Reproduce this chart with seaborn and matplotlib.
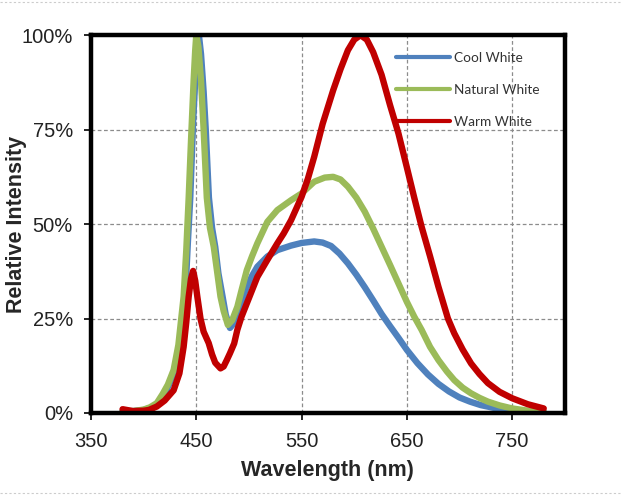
import numpy as np
import pandas as pd
import matplotlib
matplotlib.use("Agg")
import matplotlib.pyplot as plt
import seaborn as sns
from matplotlib.lines import Line2D

# ---- data ----
cool_wl = [380, 390, 400, 408, 414, 420, 425, 430, 435, 439.5, 442, 444.3, 447, 449, 451, 452.5,
           454.5, 457, 459, 462, 465, 468, 471, 475, 478, 482, 485, 489, 493, 498, 503, 508,
           517.5, 527, 540, 550, 562, 570, 578, 586, 594, 602, 610, 618, 626, 634, 642, 650,
           660, 670, 680, 690, 700, 710, 720, 735, 750, 765, 780]
cool_val = [0.5, 0.5, 0.8, 1.5, 2.6, 5, 8, 11.5, 19, 30.8, 45, 57, 77, 88, 97, 100,
            95, 85, 75, 57, 49, 44, 37, 30.8, 26, 22.5, 23.5, 25.5, 29.5, 33.4, 36.3, 38.7,
            41.4, 43.1, 44.3, 45, 45.4, 45.1, 44.2, 42.2, 39.6, 36.6, 33.3, 29.8, 26.2, 23, 19.9, 16.7,
            13.2, 10.2, 7.7, 5.7, 4.1, 3, 2.1, 1.2, 0.7, 0.4, 0.3]

natural_wl = [380, 390, 400, 406, 412.5, 418, 423, 428.5, 433, 438, 440.5, 442.8, 445, 447.5, 449, 450,
              452, 454.5, 457, 460, 463, 466.6, 470, 473, 476, 480, 484, 489, 493, 498, 503, 508,
              517.5, 527, 540, 550, 562, 572, 580, 587, 594, 602, 610, 618, 626, 634, 642, 650,
              657, 664, 672, 680, 688, 695, 703, 711, 719, 727, 738, 750, 765, 780]
natural_val = [0.5, 0.5, 0.9, 1.5, 2.6, 5, 7.5, 11.4, 18, 30.8, 43, 57, 72, 88, 96, 100,
               97, 88, 75, 57, 49, 44, 37, 30.8, 27, 23.3, 24.5, 28.1, 32.5, 37.8, 41.5, 44.9,
               50.6, 53.7, 56.3, 58.1, 61.2, 62.3, 62.5, 61.8, 59.9, 57, 53.3, 48.8, 44, 39.2, 34.3, 29.4,
               25.5, 22, 17.5, 14, 11, 8.7, 6.7, 5.2, 4, 3, 2, 1.2, 0.6, 0.3]

warm_wl = [380, 390, 400, 405, 412.5, 420, 428.5, 434, 438, 440.5, 442.8, 445, 447, 449, 451, 454,
           457, 461.8, 465, 468, 473, 476, 479, 482, 486, 489, 493, 498, 503, 508, 517.5, 527,
           533, 540, 550, 556, 562, 570, 580, 587, 594, 600, 606, 612, 618, 626, 634, 642,
           650, 657, 664, 672, 680, 689, 695, 703, 711, 719, 727, 738, 750, 765, 780]
warm_val = [1.0, 0.5, 0.6, 0.8, 1.7, 3.3, 6, 10.5, 17.5, 24, 30.8, 35.5, 37.6, 35, 30.8, 25,
            21.5, 18.5, 15.5, 13.3, 11.8, 12.3, 14, 15.8, 18.4, 22, 25.5, 29, 32.5, 36, 40.5, 44.9,
            47.5, 51, 57.2, 62, 67.8, 76.5, 85.4, 91, 96, 98.8, 100, 98.8, 95.5, 89.5, 81.5, 74,
            65, 57, 49.3, 41.5, 33.4, 25, 21.1, 16.8, 13.1, 10.3, 7.9, 5.6, 3.9, 2.3, 1.2]

series_names = ["Cool White", "Natural White", "Warm White"]
colors = ["#4F81BD", "#9BBB59", "#C00000"]
x_ticks = [350, 450, 550, 650, 750]
y_ticks = [0, 25, 50, 75, 100]
y_tick_labels = ["0%", "25%", "50%", "75%", "100%"]

df = pd.concat([
    pd.DataFrame({"Wavelength": cool_wl, "Intensity": cool_val, "Series": series_names[0]}),
    pd.DataFrame({"Wavelength": natural_wl, "Intensity": natural_val, "Series": series_names[1]}),
    pd.DataFrame({"Wavelength": warm_wl, "Intensity": warm_val, "Series": series_names[2]}),
], ignore_index=True)

sns.set_style("white")
plt.rcParams["font.family"] = ["Liberation Sans", "DejaVu Sans"]

fig = plt.figure(figsize=(6.21, 4.95), dpi=100)
ax = fig.add_axes([0.1465, 0.1657, 0.763, 0.7633])

sns.lineplot(data=df, x="Wavelength", y="Intensity", hue="Series",
             palette=dict(zip(series_names, colors)), estimator=None, sort=True,
             linewidth=4.6, ax=ax, legend=False, zorder=3)
for ln in ax.get_lines():
    ln.set_solid_joinstyle("round")
    ln.set_solid_capstyle("round")

ax.set_xlim(350, 800)
ax.set_ylim(0, 100)
ax.set_xticks(x_ticks)
ax.set_yticks(y_ticks)
ax.set_yticklabels(y_tick_labels)
ax.tick_params(axis="both", direction="out", length=5, width=1.2, color="black",
               labelsize=14.5, labelcolor="#222222", left=True, bottom=True)
ax.tick_params(axis="y", pad=8)
ax.tick_params(axis="x", pad=9)

ax.grid(True, linestyle=(0, (3, 2)), color="#8c8c8c", linewidth=0.9)
ax.set_axisbelow(True)
for s in ax.spines.values():
    s.set_visible(True)
    s.set_color("black")
    s.set_linewidth(3.2)
    s.set_zorder(5)

ax.set_xlabel("Wavelength (nm)", fontsize=15.5, fontweight="bold", labelpad=6)
ax.set_ylabel("Relative Intensity", fontsize=15.5, fontweight="bold")
ax.yaxis.set_label_coords(-0.134, 0.5)

handles = [Line2D([0], [0], color=c, lw=3.0) for c in colors]
leg = ax.legend(handles, series_names, loc="upper left", bbox_to_anchor=(0.643, 0.955),
                frameon=False, handlelength=4.0, handletextpad=0.3,
                labelspacing=1.45, borderpad=0, borderaxespad=0,
                prop={"family": ["Lato", "DejaVu Sans"], "size": 9.8})
for t in leg.get_texts():
    t.set_color("#333333")

# faint dotted frame lines of the original image
fig.add_artist(Line2D([0, 1], [0.995, 0.995], transform=fig.transFigure,
                      color="#cccccc", lw=0.8, linestyle=(0, (2, 2))))
fig.add_artist(Line2D([0, 1], [0.004, 0.004], transform=fig.transFigure,
                      color="#cccccc", lw=0.8, linestyle=(0, (2, 2))))

fig.savefig("out.png", dpi=100)
